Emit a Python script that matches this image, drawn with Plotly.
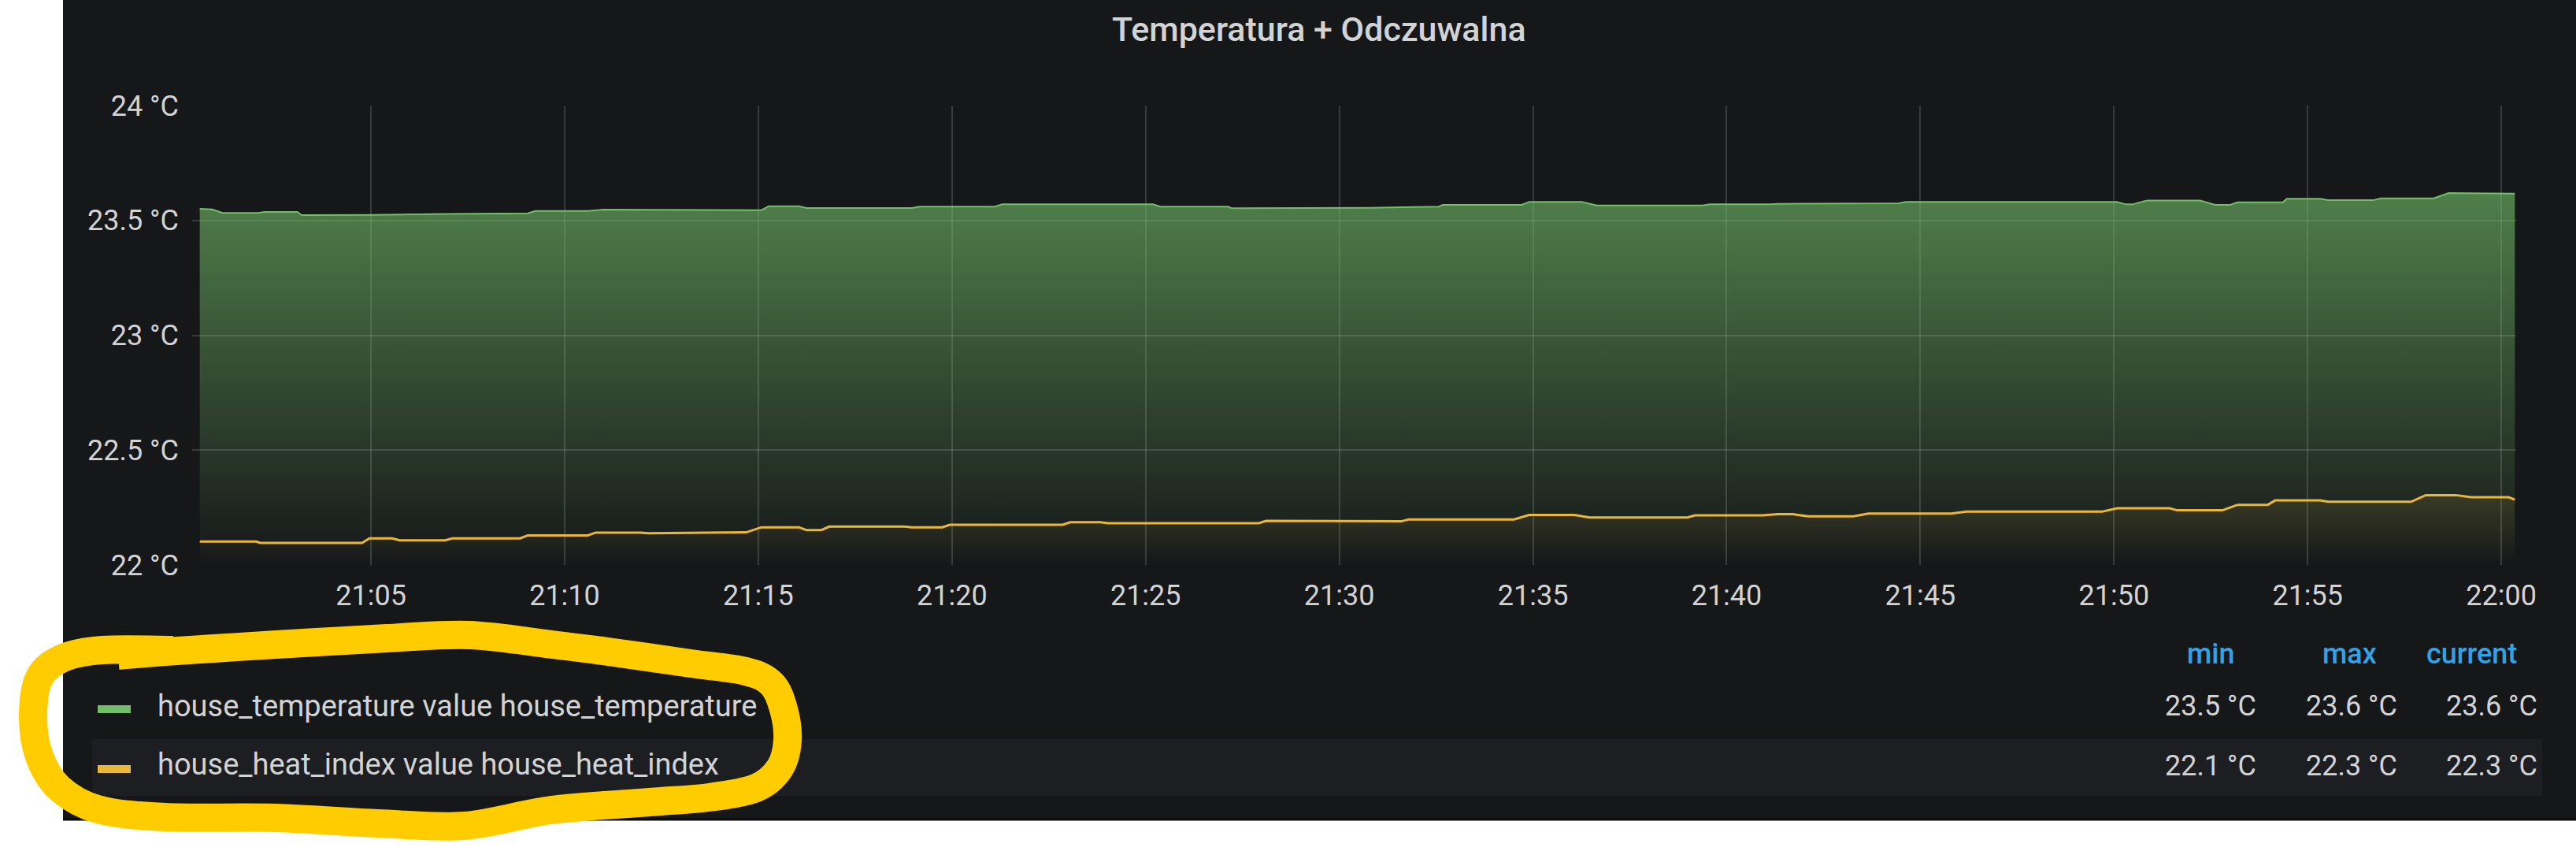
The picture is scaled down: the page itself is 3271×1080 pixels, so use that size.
import plotly.graph_objects as go
import pandas as pd

# ---------------- data ----------------
BASE = "2021-03-01 21:00:00"
RANGE_START_SEC = 23          # window 21:00:23 .. 22:00:23
RANGE_LEN_MIN = 60

# minutes after 21:00
temp_min = [0.58, 0.90, 1.17, 2.10, 2.24, 3.10, 3.21, 4.96, 7.00, 9.05, 9.24, 10.60,
            10.99, 12.74, 14.00, 15.08, 15.27, 16.05, 16.24, 18.96, 19.16, 21.10, 21.30,
            23.00, 25.19, 25.38, 27.13, 27.23, 29.00, 30.80, 32.57, 32.67, 34.71, 34.90,
            36.26, 36.65, 39.38, 39.57, 41.13, 41.30, 44.44, 44.63, 50.08, 50.30, 50.47,
            50.86, 52.22, 52.61, 53.00, 53.19, 54.36, 54.46, 55.33, 55.53, 56.69, 56.89,
            58.25, 58.64, 60.35]
temp_val = [23.551, 23.548, 23.533, 23.533, 23.537, 23.537, 23.523, 23.524, 23.528, 23.531,
            23.541, 23.541, 23.547, 23.547, 23.545, 23.545, 23.562, 23.562, 23.554, 23.554,
            23.560, 23.560, 23.570, 23.571, 23.570, 23.560, 23.560, 23.553, 23.553, 23.555,
            23.560, 23.568, 23.568, 23.581, 23.581, 23.565, 23.565, 23.570, 23.570, 23.572,
            23.575, 23.581, 23.581, 23.570, 23.570, 23.587, 23.587, 23.568, 23.568, 23.579,
            23.579, 23.594, 23.594, 23.588, 23.588, 23.596, 23.596, 23.619, 23.617]

heat_min = [0.58, 2.04, 2.14, 4.77, 4.96, 5.55, 5.74, 6.91, 7.10, 8.85, 9.05, 10.60, 10.80,
            11.97, 12.16, 14.69, 15.08, 16.05, 16.24, 16.63, 16.83, 18.77, 18.97, 19.75,
            19.94, 22.86, 23.05, 23.83, 24.03, 27.92, 28.11, 30.79, 31.60, 31.79, 34.51,
            34.90, 36.07, 36.46, 38.99, 39.18, 40.93, 41.32, 41.71, 42.10, 43.27, 43.66,
            45.80, 46.19, 49.69, 50.08, 51.44, 51.63, 52.80, 53.19, 53.97, 54.16, 55.33,
            55.53, 57.67, 58.05, 58.83, 59.22, 60.19, 60.35]
heat_val = [22.102, 22.102, 22.096, 22.096, 22.116, 22.116, 22.107, 22.107, 22.116, 22.116,
            22.129, 22.129, 22.141, 22.141, 22.138, 22.142, 22.164, 22.164, 22.152, 22.152,
            22.167, 22.167, 22.164, 22.164, 22.175, 22.175, 22.186, 22.186, 22.182, 22.182,
            22.192, 22.192, 22.190, 22.198, 22.198, 22.218, 22.218, 22.207, 22.207, 22.216,
            22.216, 22.221, 22.221, 22.212, 22.212, 22.224, 22.224, 22.232, 22.232, 22.247,
            22.247, 22.238, 22.238, 22.262, 22.262, 22.281, 22.281, 22.275, 22.275, 22.304,
            22.304, 22.295, 22.295, 22.284]

y_ticks = [22, 22.5, 23, 23.5, 24]
series_names = ["house_temperature value house_temperature",
                "house_heat_index value house_heat_index"]
stat_headers = ["min", "max", "current"]
title_text = "Temperatura + Odczuwalna"
unit = " °C"

# ---------------- styles ----------------
W, H = 3271, 1080
ML, MR, MT, MB = 244, 76, 134, 363
PW, PH = W - ML - MR, H - MT - MB
PANEL = "#161719"
BAND = "#1d1e22"
TEXT = "#d2d3d5"
BLUE = "#33a2e5"
GREEN = "#73BF69"
YELLOW = "#EAB839"
MARKER = "#FFCC00"
FONT = "Roboto"


def xp(px):
    return (px - ML) / PW


def yp(py):
    return (H - MB - py) / PH


base = pd.Timestamp(BASE)
tx = base + pd.to_timedelta(temp_min, unit="m")
hx = base + pd.to_timedelta(heat_min, unit="m")
x0 = base + pd.Timedelta(seconds=RANGE_START_SEC)
x1 = x0 + pd.Timedelta(minutes=RANGE_LEN_MIN)

fig = go.Figure()
fig.add_trace(go.Scatter(
    x=tx, y=temp_val, mode="lines", line=dict(color=GREEN, width=2),
    fill="tozeroy",
    fillgradient=dict(type="vertical", start=22, stop=max(temp_val),
                      colorscale=[[0, "rgba(115,191,105,0.0)"], [1, "rgba(115,191,105,0.62)"]]),
    name=series_names[0], showlegend=False, hoverinfo="skip"))
fig.add_trace(go.Scatter(
    x=hx, y=heat_val, mode="lines", line=dict(color=YELLOW, width=3),
    fill="tozeroy",
    fillgradient=dict(type="vertical", start=22, stop=max(heat_val),
                      colorscale=[[0, "rgba(234,184,57,0.0)"], [1, "rgba(234,184,57,0.12)"]]),
    name=series_names[1], showlegend=False, hoverinfo="skip"))

grid = "rgba(200,200,210,0.20)"
fig.update_xaxes(range=[x0, x1], type="date", tickformat="%H:%M", dtick=300000,
                 showgrid=True, gridcolor=grid, gridwidth=2, zeroline=False,
                 showline=False, ticks="", ticklabelstandoff=14,
                 tickfont=dict(family=FONT, size=36, color=TEXT))
fig.update_yaxes(range=[22, 24], tickmode="array", tickvals=y_ticks,
                 ticktext=["%g%s" % (v, unit) for v in y_ticks],
                 showgrid=True, gridcolor=grid, gridwidth=2, zeroline=False,
                 showline=False, ticks="", ticklabelstandoff=16,
                 tickfont=dict(family=FONT, size=36, color=TEXT))

shapes = []
# panel
shapes.append(dict(type="rect", xref="paper", yref="paper", layer="below",
                   x0=xp(80), x1=xp(W + 20), y0=yp(-20), y1=yp(1041),
                   fillcolor=PANEL, line=dict(width=0)))
shapes.append(dict(type="line", xref="paper", yref="paper", layer="below",
                   x0=xp(80), x1=xp(W + 20), y0=yp(1040), y1=yp(1040),
                   line=dict(color="#0b0c0e", width=3)))
# second legend row band
shapes.append(dict(type="rect", xref="paper", yref="paper", layer="below",
                   x0=xp(117), x1=xp(3228), y0=yp(1010), y1=yp(938),
                   fillcolor=BAND, line=dict(width=0)))
# legend swatches
for cy, col in [(900, GREEN), (976, YELLOW)]:
    shapes.append(dict(type="rect", xref="paper", yref="paper",
                       x0=xp(124), x1=xp(166), y0=yp(cy + 5), y1=yp(cy - 5),
                       fillcolor=col, line=dict(width=0)))

# hand-drawn highlight loop around the legend (decoration)
loop_px = [(150, 832), (210, 827), (351, 818), (491, 810), (596, 806), (701, 818),
           (772, 827), (877, 842), (947, 852), (980, 868), (995, 900), (1000, 940),
           (990, 975), (960, 1000), (900, 1012), (825, 1018), (700, 1028), (590, 1048),
           (480, 1045), (350, 1038), (210, 1037), (124, 1027), (75, 1000), (50, 960),
           (42, 910), (50, 860), (80, 835), (130, 825), (220, 825)]
pts = [(xp(a), yp(b)) for a, b in loop_px]
d = "M %.5f,%.5f" % pts[0]
for i in range(len(pts) - 1):
    p0 = pts[i - 1] if i > 0 else pts[i]
    p1 = pts[i]
    p2 = pts[i + 1]
    p3 = pts[i + 2] if i + 2 < len(pts) else p2
    c1 = (p1[0] + (p2[0] - p0[0]) / 6, p1[1] + (p2[1] - p0[1]) / 6)
    c2 = (p2[0] - (p3[0] - p1[0]) / 6, p2[1] - (p3[1] - p1[1]) / 6)
    d += " C %.5f,%.5f %.5f,%.5f %.5f,%.5f" % (c1 + c2 + p2)
shapes.append(dict(type="path", xref="paper", yref="paper", path=d,
                   line=dict(color=MARKER, width=36)))

annotations = []
annotations.append(dict(text=title_text, xref="paper", yref="paper", x=xp(1675), y=yp(37),
                        xanchor="center", yanchor="middle", showarrow=False,
                        font=dict(family=FONT, size=43, color=TEXT, weight=500)))
for name, cy in zip(series_names, [896, 970]):
    annotations.append(dict(text=name, xref="paper", yref="paper", x=xp(198), y=yp(cy),
                            xanchor="left", yanchor="middle", showarrow=False,
                            font=dict(family=FONT, size=38, color=TEXT)))


def fmt(v):
    return "%.1f%s" % (v, unit)


temp_stats = [fmt(min(temp_val)), fmt(max(temp_val)), fmt(temp_val[-1])]
heat_stats = [fmt(min(heat_val)), fmt(max(heat_val)), fmt(heat_val[-1])]
head_right = [2840, 3020, 3198]
val_right = [2867, 3046, 3224]
for h, xr in zip(stat_headers, head_right):
    annotations.append(dict(text=h, xref="paper", yref="paper", x=xp(xr), y=yp(830),
                            xanchor="right", yanchor="middle", showarrow=False,
                            font=dict(family=FONT, size=36, color=BLUE, weight=500)))
for row, cy in [(temp_stats, 896), (heat_stats, 972)]:
    for v, xr in zip(row, val_right):
        annotations.append(dict(text=v, xref="paper", yref="paper", x=xp(xr), y=yp(cy),
                                xanchor="right", yanchor="middle", showarrow=False,
                                font=dict(family=FONT, size=36, color=TEXT)))

fig.update_layout(width=W, height=H, margin=dict(l=ML, r=MR, t=MT, b=MB, pad=0),
                  paper_bgcolor="#ffffff", plot_bgcolor=PANEL, showlegend=False,
                  shapes=shapes, annotations=annotations,
                  font=dict(family=FONT, color=TEXT))

fig.write_html("out.html", config={"displayModeBar": False},
               post_script="document.body.style.margin='0';")
